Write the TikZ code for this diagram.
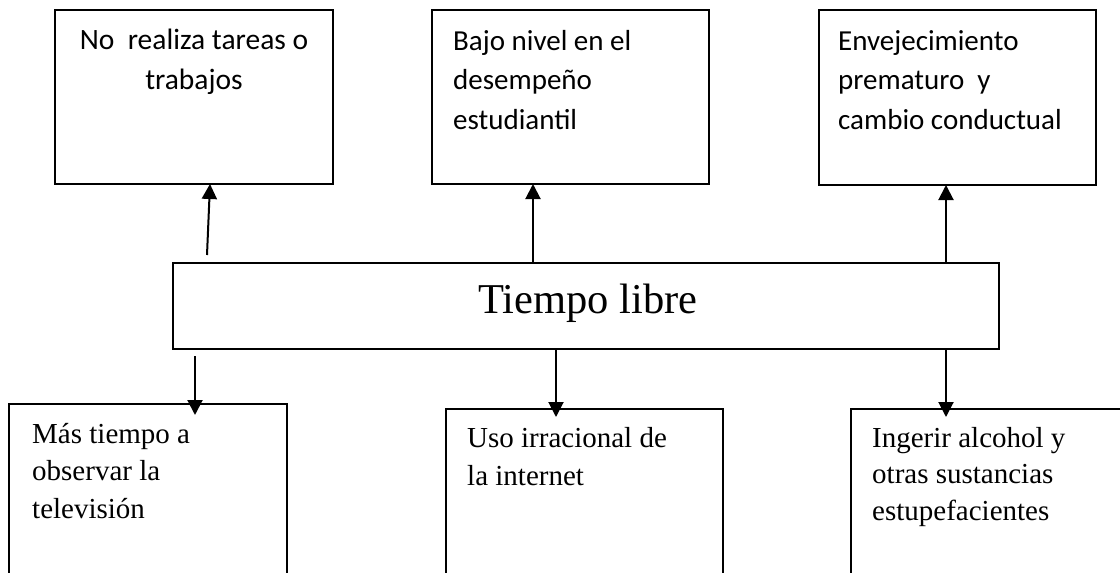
\documentclass[tikz,border=0pt]{standalone}
\usepackage{fontspec}
\setmainfont{Liberation Serif}
\newfontfamily\calib{Carlito}
\usetikzlibrary{arrows.meta}
\begin{document}
\begin{tikzpicture}[x=1pt,y=-1pt,
  box/.style={draw, rectangle, line width=2pt, inner sep=0pt, outer sep=0pt},
  topbox/.style={box, line width=1.7pt, minimum width=277pt, minimum height=174pt},
  lowbox/.style={box, minimum width=278pt, minimum height=300pt},
  arr/.style={line width=2pt, -{Triangle[width=15pt,length=15pt]}},
  toptext/.style={inner sep=0pt, anchor=base},
  lowtext/.style={inner sep=0pt, anchor=base west}]
\useasboundingbox (0,0) rectangle (1120,573);
\clip (0,0) rectangle (1120,573);

% top boxes
\node[topbox, minimum width=278pt] (t1) at (194,97) {};
\node[topbox] (t2) at (570.5,97) {};
\node[topbox, minimum height=175pt] (t3) at (957.5,97.5) {};
\node[toptext] (t1txt) at (194,49) {\parbox[t]{270pt}{\calib\fontsize{29.5}{40.5}\selectfont\centering No\ \ realiza tareas o\\trabajos}};
\node[toptext, anchor=base west] (t2txt) at (453,50) {\parbox[t]{250pt}{\calib\fontsize{29}{39.7}\selectfont\raggedright Bajo nivel en el\\desempeño\\estudiantil}};
\node[toptext, anchor=base west] (t3txt) at (838,50) {\parbox[t]{255pt}{\calib\fontsize{29}{39.5}\selectfont\raggedright Envejecimiento\\prematuro\ \ y\\cambio conductual}};

% central box
\node[box, minimum width=826pt, minimum height=86pt] (c) at (586,306) {};
\node[inner sep=0pt, anchor=base, font=\fontsize{42.5}{50}\selectfont] (ctxt) at (588,313) {Tiempo libre};

% bottom boxes (cut by the lower edge)
\node[lowbox] (m1) at (148,554) {};
\node[lowbox, minimum width=277pt] (m2) at (584.5,559) {};
\node[lowbox, minimum width=279pt] (m3) at (990.5,559) {};
\node[lowtext] (m1txt) at (32,443) {\parbox[t]{250pt}{\fontsize{29}{37.5}\selectfont\raggedright Más tiempo a\\observar la\\televisión}};
\node[lowtext] (m2txt) at (467,447) {\parbox[t]{250pt}{\fontsize{29}{38}\selectfont\raggedright Uso irracional de\\la internet}};
\node[lowtext] (m3txt) at (872,447) {\parbox[t]{240pt}{\fontsize{29}{36.8}\selectfont\raggedright Ingerir alcohol y\\otras sustancias\\estupefacientes}};

% arrows up
\coordinate (a1s) at (207,255);
\draw[arr] (a1s) -- ([xshift=16pt]t1.south);
\draw[arr] ([xshift=-53pt]c.north) -- ([xshift=-53pt]c.north |- t2.south);
\draw[arr] ([xshift=360pt]c.north) -- ([xshift=360pt]c.north |- t3.south);

% arrows down
\coordinate (b1s) at (195,356);
\coordinate (b1e) at (195,415);
\coordinate (b2e) at (556,417);
\coordinate (b3e) at (946,417);
\draw[arr] (b1s) -- (b1e);
\draw[arr] (b2e |- c.south) -- (b2e);
\draw[arr] (b3e |- c.south) -- (b3e);
\end{tikzpicture}
\end{document}
